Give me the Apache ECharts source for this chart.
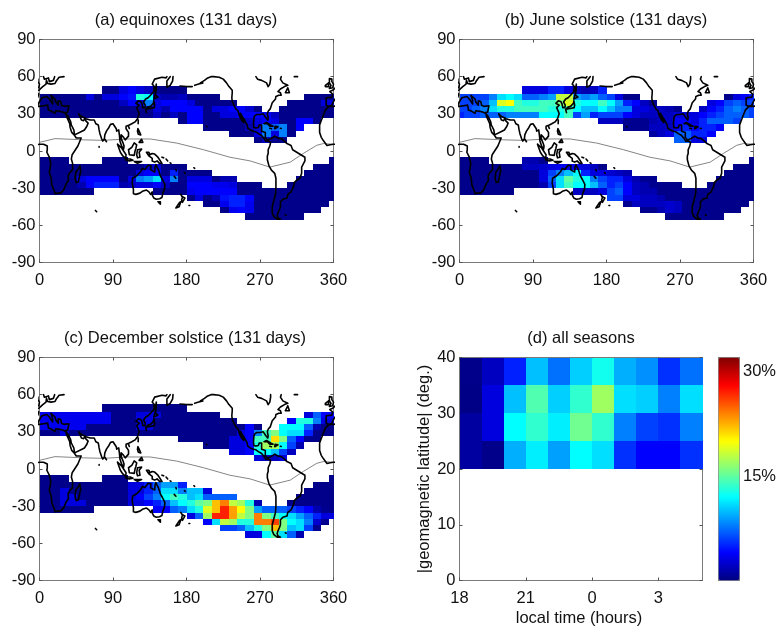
<!DOCTYPE html>
<html>
<head>
<meta charset="utf-8">
<style>html,body{margin:0;padding:0;background:#fff}#c{width:779px;height:630px}</style>
<script src="https://cdn.jsdelivr.net/npm/echarts@6/dist/echarts.min.js"></script>
</head>
<body>
<div id="c"></div>
<script>
// ---------- bins of the three maps ----------
const lonEdges = [0,5.14,15.43,25.71,36,46.29,56.57,66.86,77.14,87.43,97.71,108,118.29,128.57,138.86,149.14,159.43,169.71,180,190.29,200.57,210.86,221.14,231.43,241.71,252,262.29,272.57,282.86,293.14,303.43,313.71,324,334.29,344.57,354.86,360];
const latEdgesNorth = [52.3,46.3,41.3,36.3,31.3,26.4,21.4,16.4,11.4,6.3];
const latEdgesSouth = [-4.9,-10.3,-15.2,-20.2,-25.2,-30.2,-35.3,-40.2,-45.3,-50.4,-56];
// inclusive column ranges occupied in each latitude row, north rows then south rows
const rowColumns = [
 [[8,17]],[[0,21],[32,35]],[[0,23],[30,35]],[[0,26],[29,35]],[[0,35]],[[17,33]],[[20,31]],[[23,30]],[[26,29]],
 [[0,3],[8,10],[35,35]],[[0,17],[33,35]],[[0,20],[32,35]],[[0,23],[31,35]],[[0,26],[30,35]],[[0,6],[14,35]],[[18,35]],[[20,34]],[[22,33]],[[25,31]]
];
// ---------- percentages, row by row ----------
const equinoxValues = [
 [.3,.3,3,4,3,2,.3,.3,.3,.3],
 [.3,.3,.3,.3,.3,.3,3,.3,3,3,4,4.5,13,12,2,1.5,1.5,2,.3,.3,.3,.3, .3,.3,.3,.3],
 [.3,.3,.3,.3,.3,.3,.3,.3,.3,.3,2,4,3,8,3,4,4,4,3,.3,.3,.3,.3,.3, .3,.3,.3,.3,3,3],
 [.3,.3,.3,.3,.3,.3,.3,.3,.3,.3,.3,.3,.3,.3,3,1.5,4,4,4,4,.3,3,3,4,4,2.5,.3, .3,.3,.3,.3,.3,.3,.3],
 [.3,.3,.3,.3,.3,.3,.3,.3,.3,.3,.3,.3,.3,.3,2,.3,2,.3,4,4,.3,.3,3,3,4,4,4,4,2,.3,.3,.3,.3,.3,.3,.3],
 [.3,4,4,.3,.3,.3,.3,.3,2,3,4,3,.3,.3,4,4,.3],
 [.3,.3,.3,.3,.3,1.5,3,8,7,8,.3,4],
 [.3,.3,.3,3,8,3,8,.3],
 [.3,2,.3,.3],
 [.3,.3,.3,.3,.3,.3,.3,.3],
 [.3,.3,.3,.3,.3,.3,.3,.3,.3,.3,.3,.3,.3,2,3,.3,.3,.3, .3,.3,.3],
 [.3,.3,.3,.3,.3,.3,.3,.3,.3,.3,.3,.3,3,4,4,.3,5,.3,.3,.3,.3, .3,.3,.3,.3],
 [.3,.3,.3,.3,.3,3,4,4,4,4,.3,3,8,9,11,3,8,.3,3,3,3,.3,1.5,1.5, .3,.3,.3,.3,.3],
 [.3,.3,.3,.3,.3,1.5,4,5,5,5,1.5,2,3,3,4,2,.3,.3,4,4,4,3.5,3.5,3,.3,.3,.3, .3,.3,.3,.3,.3,.3],
 [.3,.3,.3,.3,.3,.3,.3, .3,.3,.3,.3,3.5,4,4,4,4,4,.3,.3,.3,.3,.3,.3,.3,.3,.3,.3,.3,.3],
 [.3,3,.3,1.5,4.5,5,5,4,.3,.3,.3,.3,.3,.3,.3,.3,.3,.3],
 [.3,.3,3.5,5,5,3.5,.3,.3,.3,.3,.3,.3,.3,.3,.3],
 [.3,3.5,4,3.5,.3,.3,.3,.3,.3,.3,.3,.3],
 [.3,.3,.3,.3,.3,.3,.3]
];
const juneValues = [
 [3,3,3,5,5,3,2,1.5,2,5],
 [6,6,6,6,8,11,12,11,7,7,8,9,18,18,9,8,9,7,6,3,.3,.3, .3,3,4,5],
 [6,6,6,7,10,19,20,14,13,13,14,14,16,19,13,12,12,14,12,9,5,4,2,.5, 3,4,6,7,6,6],
 [6,6,7,8,11,13,13,14,14,14,14,13,13,14,12,10,10,12,10,8,8,3,3,2,2,1.5,.5, 2,4,5,7,8,7,6],
 [5,6,6,7,7,7,8,8,8,8,12,12,12,14,6,9,5,6,6,6,4,3,2,2,2,2,3,3,3,4,5,6,7,7,7,6],
 [2,2,2,.5,.5,.5,1.5,2,2,4,4,3,5,7,7,7,6],
 [.5,.5,.5,2,2,2,4,5,4,5,5,4],
 [1,2,3,7,7,5,5,4],
 [7,7,3,3],
 [.3,.3,.3,.3,1.5,1.5,.5,.3],
 [.3,.3,.3,.3,.3,.3,.3,.3,2,2,2.5,3,3.5,3.5,3.5,3,2,.3, .3,.3,.3],
 [.3,.3,.3,.3,.3,.3,.3,.3,.3,.3,3,6,8,10,12,5,3,3,2.5,2,1.5, .3,.3,.3,.3],
 [.3,.3,.3,.3,.3,.3,.3,.3,.3,.3,3,7,11,15,13,12,8,6,5,5,3,1.5,.5,.5, .3,.3,.3,.3,.3],
 [.3,.3,.3,.3,.3,.3,.3,.3,.3,.3,1.5,6,11,14,12,12,10,7,5,6,4,2,1.5,.5,.3,.3,.3, .3,.3,.3,.3,.3,.3],
 [.3,.3,.3,.3,.3,.3,.3, 2,2,2,3,6,7,4,2,1.5,1.5,.3,.3,.3,.3,.3,.3,.3,.3,.3,.3,.3,.3],
 [6,6,3,3,2,2,1.5,.3,.3,.3,.3,.3,.3,.3,.3,.3,.3,.3],
 [.5,2,2,2,2,2.5,2,.3,.3,.3,.3,.3,.3,.3,.3],
 [.5,.5,1.5,2.5,2,.3,.3,.3,.3,.3,.3,.3],
 [.3,.3,.3,.3,.3,.3,.3]
];
const decemberValues = [
 [.3,.3,.3,.3,.3,.3,.3,.3,.3,.3],
 [3.5,3.5,3.5,3.5,3.5,3.5,3.5,3.5,3.5,.3,.3,.3,3,3,3,.3,.3,.3,.3,.3,.3,.3, 3,7,4,4],
 [3.5,3.5,3.5,3.5,3.5,3.5,3.5,3.5,3.5,.3,.3,.3,3,3,.3,.3,.3,.3,.3,.3,.3,.3,.3,.3, 4,13,13,8,3,3],
 [3.5,3.5,3.5,3.5,3.5,3.5,.3,.3,.3,.3,.3,.3,3,3,.3,.3,.3,.3,.3,.3,.3,.3,.3,.3,.3,4,.3, 12,12,12,7,1.5,.3,.3],
 [.3,.3,.3,3,.3,.3,.3,.3,.3,.3,.3,.3,.3,.3,.3,.3,.3,.3,.3,.3,.3,.3,.3,.3,3,4,8,14,16,12,11,11,5,.3,.3,.3],
 [.3,.3,.3,.3,.3,.3,3,3,4,14,14,21,16,7,4,.5,.3],
 [.3,.3,.3,3,3,4,13,17,17,12,6,1.5],
 [3,3,4,12,12,10,6,2],
 [3,2,2,3],
 [.3,.3,.3,.3,.3,.3,.3,.3],
 [.3,.3,.3,.3,.3,.3,.3,.3,.3,.3,.3,3,3,5,7,9,9,5, .3,.3,.3],
 [.3,.3,.3,3,.3,.3,.3,.3,.3,.3,.3,3,3,5,7,11,11,8,10,10,3, .3,.3,.3,.3],
 [.3,.3,.3,3,3,.3,.3,.3,.3,.3,.3,3,4,6,8,12,14,13,10,11,7,7,7,7, .3,.3,.3,.3,.3],
 [.3,.3,.3,3,3,3,.3,.3,.3,.3,.3,3,3,4,5,7,10,12,13,15,16,22,24,18,17,13,1.5, .3,.3,.3,.3,.3,.3],
 [.3,.3,.3,.3,.3,.3,.3, 4,4,7,8,11,13,19,22,27,23,20,16,9,7,7,7,6,5,4,1.5,.5,.3],
 [3,7,17,27,27,23,18,16,24,16,14,12,11,9,7,5,3,3],
 [4,11,18,17,13,13,24,24,26,16,12,11,8,2.5,.5],
 [6,6,7,10,13,16,22,16,10,11,6,.5],
 [3,3,12,15,11,7,1.5]
];
// ---------- panel (d): local time against |geomagnetic latitude| ----------
const hourEdges = [18,19,20,21,22,23,24,25,26,27,28,29];
const geoLatEdges = [40,35,30,25,20];
const seasonsValues = [
 [.3,2,5,10,7.5,10.5,12.5,9.5,8.5,5.5,7.5],
 [.2,3,10,14.5,10.5,13.5,17,11,10.5,8,11],
 [1,3,12,13.5,11.5,15.5,13.5,8,6,5.5,8],
 [1,.3,9.5,11.5,9,12,11,5.5,4,4,5.5]
];
const jetColors = ['#000080','#0000ff','#0080ff','#00ffff','#80ff80','#ffff00','#ff8000','#ff0000','#800000'];
const titles = ['(a) equinoxes (131 days)','(b) June solstice (131 days)','(c) December solstice (131 days)','(d) all seasons'];
const hourLabels = {18:'18',21:'21',24:'0',27:'3'};
const hourTicks = [18,21,24,27];
const barTicks = [15,30];

// ---------- coastlines, [lon, lat], land west of Greenwich as negative lon ----------
const coastAfrica = [[-5.5,36],[-10,33],[-13,28],[-17,21],[-17,15],[-15,11],[-12,8],[-8,4.5],[-4,5],[0,5.5],[5,5.5],[7,4.5],[9.5,4],[9.5,1],[9,-1],[12,-5],[13.5,-9],[13.5,-12],[12,-17],[14.5,-22.5],[15,-27],[18,-32],[19,-34.5],[22,-34],[26,-34],[30,-31],[33,-26],[35.5,-24],[35,-20],[37,-17.5],[40.5,-15],[40.5,-10],[39,-6.5],[40,-3],[43,0],[47,4],[51,10.5],[51.5,12],[45,10.5],[43.5,11.5],[43,12.5],[39.5,15],[37.5,19],[37,22],[35,25],[33,28],[32.5,30],[32,31],[30,31],[25,32],[20,32.5],[19,30.5],[15,32],[11,33],[10,37],[5,36.5],[0,36],[-2,35],[-5.5,36]];
const coastAsiaSouth = [[32.5,30],[35,28],[38,24],[39,21],[42,17],[43,13],[45,13],[52,16],[55,17],[58,20],[59.5,22.5],[56.5,24.5],[56,26.5],[54,24.5],[51.5,25],[50,27],[48,30],[51,28],[54,27],[57,26],[62,25],[67,25],[69,22],[72,21],[73,17],[74,14],[76,10],[77.5,8],[79.5,10],[80,13],[82,16],[85,19],[87,21.5],[90,22],[92,21],[94,18],[94.5,16],[97,17],[98,12],[98.5,8],[100.5,4],[103,1.5],[104,1.5],[103.5,4],[102,7],[100,10],[100,13],[101,13],[103,11],[105,9],[107,10.5],[109,12],[109,15],[106,18],[106,20],[108,21.5],[110,21],[113,22],[117,23.5],[120,26],[122,30],[121,32],[119,35],[122,37],[118,38.5],[121,40.5],[124,40],[125.5,38],[126.5,35],[129,35],[129.5,37],[127.5,39.5],[130,42],[133,43],[136,45],[140,48],[140.5,52],[138,54],[141,58],[150,59.5],[155,59],[156,60]];
const coastKamchatka = [[160,60],[156,56.5],[156,51.5],[158,52],[160,53],[163,56.5],[163.5,60]];
const coastEurope = [[36,36.5],[30,36],[27,37],[26,40],[23,40.5],[23,37],[20,39.5],[19,42],[14,45],[12.5,44],[16,41],[18,40],[16,38],[12,42],[9,44],[3,43],[0,40],[-2,37],[-5.5,36],[-9,37],[-9,43],[-2,43.5],[-1,46],[-4.5,48],[-1,49],[1,50],[4,52],[8,54],[8.5,57],[10.5,57.5],[10,54.5],[14,54],[19,54.5],[21,57],[24,59.5],[30,60]];
const coastLevant = [[32,31],[34.5,31.5],[36,36.5]];
const coastScandinavia = [[5,60],[6,58],[8,58],[11,59],[12,56],[14,55.5],[17,57],[18.5,60]];
const coastBritain = [[-5,50.5],[-1,51],[1,51.5],[0,54],[-2,56],[-2,58],[-5,58.5],[-5,55],[-3,53],[-5,52],[-5,50.5]];
const coastIreland = [[-10,52],[-6,52],[-6,55],[-8,55],[-10,53],[-10,52]];
const coastMadagascar = [[49.5,-12],[50.5,-16],[47.5,-25],[45,-25.5],[43.5,-22],[44.5,-17],[47,-15],[49.5,-12]];
const coastSriLanka = [[80,9.5],[82,7.5],[81,6],[80,6.5],[80,9.5]];
const coastAustralia = [[114,-22],[113.5,-26],[115,-31],[115,-34.5],[118,-35],[123,-34],[126,-32.5],[131,-31.5],[134,-33],[136,-35],[138,-33],[138,-35.5],[140,-38],[143,-39],[147,-38.5],[150,-37.5],[151,-34],[153,-31],[153.5,-27],[150.5,-23],[148,-20],[146,-18.5],[145.5,-15],[143.5,-14],[142.5,-11],[141.5,-13],[141,-17],[139,-17.5],[136,-15],[136.5,-12],[133,-11.5],[131,-12.5],[129,-15],[126,-14],[124,-16.5],[122,-18],[119,-20],[114,-22]];
const coastTasmania = [[145,-41],[148,-41],[148,-43],[146.5,-43.5],[145,-41]];
const coastNzNorth = [[173,-35],[175,-37],[178,-38],[177,-39.5],[175,-41.5],[174,-39.5],[175,-37.5],[173,-35]];
const coastNzSouth = [[173,-41],[174,-42],[171,-45],[169,-46.5],[167,-46],[168,-44.5],[171.5,-41.5],[173,-41]];
const coastNewGuinea = [[131,-1],[134,-1],[135,-3],[138,-2],[141,-2.5],[145,-5],[147,-6],[150,-10],[147,-10],[144,-8],[141,-9],[138,-8],[138,-6],[134,-4],[132,-3],[131,-1]];
const coastBorneo = [[109,1],[110,2],[113,3],[116,6.5],[119,5],[118,2],[117,0],[116,-3.5],[114,-4],[110,-3],[109,1]];
const coastSumatra = [[95.5,5.5],[98,4],[101,2],[104,-1],[106,-3],[105.5,-6],[102,-4],[99,-1],[95.5,5.5]];
const coastJava = [[105.5,-6.5],[108,-6.5],[111,-6.5],[114.5,-7.5],[114.5,-8.5],[110,-8],[106,-7.5],[105.5,-6.5]];
const coastLesserSunda = [[116,-8.5],[120,-8.5],[125,-8.5],[124,-10],[120,-10],[116,-8.5]];
const coastSulawesi = [[120,1],[125,1.5],[122,-1],[123,-5],[121,-4],[120,-5.5],[119,-3],[120,1]];
const coastLuzon = [[120.5,18],[122,18.5],[122,16],[124,13],[121,13.5],[120,16],[120.5,18]];
const coastMindanao = [[122,7],[125,9.5],[126.5,7],[125,6],[122,7]];
const coastTaiwan = [[121,25],[122,24.5],[120.8,22],[120,23.5],[121,25]];
const coastHainan = [[109,20],[111,20],[110,18.2],[108.7,19],[109,20]];
const coastHonshu = [[130.5,34],[133,35.5],[136,36],[137,37],[139.5,38.5],[140,40.5],[141.5,41],[142,39],[141,37],[140.5,35],[137,34.5],[135,33.5],[132,34],[130.5,34]];
const coastKyushu = [[130,33.5],[132,33],[131,31],[130,32],[130,33.5]];
const coastHokkaido = [[140,42],[141.5,45.5],[145,43.5],[143,42],[140,42]];
const coastSakhalin = [[142,46],[143,50],[143,54],[142,53],[142,49],[142,46]];
const coastAmericasWest = [[197,55],[202,57],[206,59],[210,60],[213,60],[220,59.5],[225,58],[229,55],[232,52],[236,49],[236,47],[235.5,43],[236,40],[238,37],[240.5,34],[243,32.5],[245,28],[247.5,25],[250,23],[250,25],[247,28],[246,30.5],[245,31.5],[246,29],[249,27],[251,25],[254,21.5],[255,20],[255,18.5],[258,17],[262,16],[265,15.5],[268,14],[272,12.5],[275,10],[277,8],[280,8],[280,9],[276.5,11],[276.5,15],[272,16],[272,18],[272,21],[273,21.5],[269,21],[268,19],[265,18.5],[262.5,19],[262,22],[262.5,26],[263,28],[266,29.5],[270,29.5],[271,30],[274,30],[277,27],[278,26],[279.5,25],[280,27],[279,30],[280,32],[282.5,34],[284,35.5],[284,37],[285,39],[286,40.5],[289,42],[289.5,44],[293,45],[296,45],[295,47],[292,48],[295,50],[300,52],[304,53],[298,55],[295,58],[296,60]];
const coastHudsonBay = [[265,60],[267,58],[272,57],[278,55],[280,52],[281,52],[282,54],[280,55],[283,58],[283,60]];
const coastSouthAmerica = [[280,9],[282,8.5],[283.5,10],[285,11],[288,12],[292,10.5],[296,10],[298,10.5],[300,8],[303,6],[308,4.5],[310,1],[311,0],[315,-1],[320,-3],[325,-5],[325,-8],[321,-13],[321,-18],[319,-22],[315,-23.5],[312,-25.5],[311,-29],[308,-33],[304,-35],[303,-38],[298,-39],[295,-41],[295,-45],[294,-47],[292,-50],[291,-52],[292,-54],[295,-55],[291,-55],[287,-53],[285,-50],[285,-45],[287,-40],[289,-35],[289.5,-30],[289.5,-22],[288,-18],[284,-15.5],[281,-12],[279,-7],[279,-4],[280,-2],[280,1],[282,4],[283,7],[280,8]];
const coastCuba = [[275,22],[278,23],[283,21],[286,20],[282,20],[279,22],[275,22]];
const coastHispaniola = [[288.5,20],[292,19.5],[291,18],[288,18],[288.5,20]];
const coastJamaica = [[282,18.3],[284,18],[283,17.8],[282,18.3]];
const coastNewfoundland = [[301,47],[306,47],[304,51],[302,50],[301,47]];
const coastGreenland = [[312,60],[316,60]];
const coastAleutians = [[172,52.5],[180,52],[187,52]];
const coastAleutians2 = [[190,53],[195,54],[200,55]];
const coastDots = [[[57.5,-20],[57.7,-20.2]],[[55.5,-21],[55.7,-21.2]],[[68.5,-48],[70,-49]],[[165,-20.5],[167,-22]],[[167,-15],[167.5,-16]],[[177.5,-17.5],[178.5,-18]],[[189,-13.5],[190,-14]],[[183,-44],[184,-44]],[[204.5,20],[205,19.5]],[[200.5,21.5],[201,21.5]],[[268.5,-.5],[269,-.5]],[[301,-51.5],[302,-51.8]],[[73,3],[73,3.6]],[[295,18.3],[296,18.2]],[[299,13],[299,13.5]],[[298.5,10.6],[299,10.2]],[[155,-6.5],[157,-8]],[[160,-9.5],[161,-10]],[[150,-5],[152,-5.5]]];
const magneticEquator = [[0,7],[19,10],[54,9],[78,8.6],[107,9.7],[135.5,9.7],[168,6.4],[201,1],[233,-5],[258,-8],[282,-13],[307,-9],[323,-2],[339.5,4.6],[347.6,6],[360,5.4]];

const coasts = [coastAfrica,coastAsiaSouth,coastKamchatka,coastEurope,coastLevant,coastScandinavia,coastBritain,coastIreland,coastMadagascar,coastSriLanka,coastAustralia,coastTasmania,coastNzNorth,coastNzSouth,coastNewGuinea,coastBorneo,coastSumatra,coastJava,coastLesserSunda,coastSulawesi,coastLuzon,coastMindanao,coastTaiwan,coastHainan,coastHonshu,coastKyushu,coastHokkaido,coastSakhalin,coastAmericasWest,coastHudsonBay,coastSouthAmerica,coastCuba,coastHispaniola,coastJamaica,coastNewfoundland,coastGreenland,coastAleutians,coastAleutians2,...coastDots];

const gap = ['-','-'];
function coastLine(){
  const out = [];
  coasts.forEach(c=>{
    c.forEach(p=>out.push(p)); out.push(gap);
    if (c.some(p=>p[0]<0)) { c.forEach(p=>out.push([p[0]+360,p[1]])); out.push(gap); }
  });
  return out;
}
function mapCells(rows, label){
  const edges = latEdgesNorth.slice(0,-1).map((t,i)=>[t,latEdgesNorth[i+1]])
    .concat(latEdgesSouth.slice(0,-1).map((t,i)=>[t,latEdgesSouth[i+1]]));
  const cells = [];
  rows.forEach((vals,r)=>{
    let k = 0;
    rowColumns[r].forEach(([a,b])=>{
      for (let col=a; col<=b; col++) cells.push([lonEdges[col],lonEdges[col+1],edges[r][0],edges[r][1],vals[k++]]);
    });
    if (k !== vals.length) throw new Error(label+' row '+r+' has '+vals.length+', expected '+k);
  });
  return cells;
}
function seasonCells(){
  const cells = [];
  seasonsValues.forEach((vals,r)=>vals.forEach((v,c)=>cells.push([hourEdges[c],hourEdges[c+1],geoLatEdges[r],geoLatEdges[r+1],v])));
  return cells;
}
function renderCell(params, api){
  const p0 = api.coord([api.value(0), api.value(2)]);
  const p1 = api.coord([api.value(1), api.value(3)]);
  const x0 = Math.round(p0[0]), x1 = Math.round(p1[0]), y0 = Math.round(p0[1]), y1 = Math.round(p1[1]);
  return {type:'rect', shape:{x:x0,y:y0,width:x1-x0,height:y1-y0}, style:{fill:api.visual('color')}};
}

const FONT = '"Liberation Sans", Arial, sans-serif';
const SIZE = 16.5;
const frame = '#7a7a7a';
const boxes = [
 {left:39.5,top:39.5,width:294,height:223},
 {left:459.5,top:39.5,width:294,height:223},
 {left:39.5,top:357.5,width:294,height:223},
 {left:459.5,top:357.5,width:243,height:223},
 {left:718.5,top:357.5,width:21,height:223}
];
const grids = boxes.map(b=>Object.assign({containLabel:false},b));
const xAxes = [], yAxes = [];
function labelStyle(margin,extra){
  return Object.assign({show:true,color:'#111',fontFamily:FONT,fontSize:SIZE,margin:margin,hideOverlap:false,showMinLabel:true,showMaxLabel:true},extra||{});
}
function axisStyle(extra){
  return Object.assign({
    type:'value', splitLine:{show:false},
    axisLine:{show:true,onZero:false,lineStyle:{color:frame,width:1}},
    axisTick:{show:true,inside:true,length:3,lineStyle:{color:'#555',width:1}}
  },extra);
}
function addAxes(g,xo,yo,xLabel){
  xAxes.push(axisStyle(Object.assign({gridIndex:g,position:'bottom',axisLabel:labelStyle(9,xLabel)},xo)));
  yAxes.push(axisStyle(Object.assign({gridIndex:g,position:'left',axisLabel:labelStyle(4,{padding:[3,0,0,0]})},yo)));
  const xt = axisStyle(Object.assign({gridIndex:g,position:'top'},xo)); xt.axisLabel={show:false}; xt.name=''; xAxes.push(xt);
  const yr = axisStyle(Object.assign({gridIndex:g,position:'right'},yo)); yr.axisLabel={show:false}; yr.name=''; yAxes.push(yr);
}
const series = [];
[equinoxValues,juneValues,decemberValues].forEach((rows,i)=>{
  addAxes(i,{min:0,max:360,interval:90},{min:-90,max:90,interval:30});
  const ax = i*2;
  series.push({type:'custom',xAxisIndex:ax,yAxisIndex:ax,renderItem:renderCell,data:mapCells(rows,titles[i]),
    encode:{x:[0,1],y:[2,3]},silent:true,clip:true,z:1});
  series.push({type:'line',xAxisIndex:ax,yAxisIndex:ax,data:magneticEquator,symbol:'none',silent:true,z:3,
    lineStyle:{color:'#666',width:.8}});
  series.push({type:'line',xAxisIndex:ax,yAxisIndex:ax,data:coastLine(),symbol:'none',silent:true,connectNulls:false,z:4,clip:true,
    lineStyle:{color:'#000',width:1.6,cap:'round',join:'round'}});
});
addAxes(3,{min:18,max:29,interval:3,name:'local time (hours)',nameLocation:'middle',nameGap:29,
    nameTextStyle:{color:'#111',fontFamily:FONT,fontSize:SIZE,padding:[0,4,0,0]}},
  {min:0,max:40,interval:10,name:'|geomagnetic latitude| (deg.)',nameLocation:'middle',nameGap:25,
    nameTextStyle:{color:'#111',fontFamily:FONT,fontSize:SIZE,padding:[4,0,0,0]}},
  {formatter:v=>hourLabels[v]||'',customValues:hourTicks});
xAxes[6].axisTick.customValues=hourTicks;
xAxes[7].axisTick.customValues=hourTicks;
series.push({type:'custom',xAxisIndex:6,yAxisIndex:6,renderItem:renderCell,data:seasonCells(),encode:{x:[0,1],y:[2,3]},silent:true,z:1});
// colour bar frame with its two labelled ticks
xAxes.push(axisStyle({gridIndex:4,min:0,max:1,position:'bottom',axisTick:{show:false},axisLabel:{show:false}}));
xAxes.push(axisStyle({gridIndex:4,min:0,max:1,position:'top',axisTick:{show:false},axisLabel:{show:false}}));
yAxes.push(axisStyle({gridIndex:4,min:0,max:32,position:'left',axisTick:{show:true,inside:true,length:3,customValues:barTicks,lineStyle:{color:'#555'}},axisLabel:{show:false}}));
const barAxis = axisStyle({gridIndex:4,min:0,max:32,position:'right'});
barAxis.axisTick = {show:true,inside:true,length:3,customValues:barTicks,lineStyle:{color:'#555'}};
barAxis.axisLabel = {show:true,color:'#111',fontFamily:FONT,fontSize:SIZE,margin:4,customValues:barTicks,formatter:v=>v+'%',padding:[3,0,0,0]};
yAxes.push(barAxis);
series.push({type:'line',xAxisIndex:8,yAxisIndex:9,data:[],silent:true});

const titleCentres = [181,601,180,576];
const titleTops = [7,7,325,325];
const option = {
  animation:false,
  backgroundColor:'#fff',
  title:titles.map((t,i)=>({text:t,left:titleCentres[i],top:titleTops[i],textAlign:'center',
    textStyle:{color:'#111',fontFamily:FONT,fontSize:SIZE,fontWeight:'normal'}})),
  grid:grids, xAxis:xAxes, yAxis:yAxes, series,
  visualMap:{type:'continuous',show:true,min:0,max:32,dimension:4,
    seriesIndex:[0,3,6,9],left:718.5,top:357.5,itemWidth:21,itemHeight:223,padding:0,
    calculable:false,realtime:false,text:null,hoverLink:false,orient:'vertical',
    inRange:{color:jetColors}}
};
const chart = echarts.init(document.getElementById('c'),null,{renderer:'canvas',width:779,height:630});
chart.setOption(option);
</script>
</body>
</html>
